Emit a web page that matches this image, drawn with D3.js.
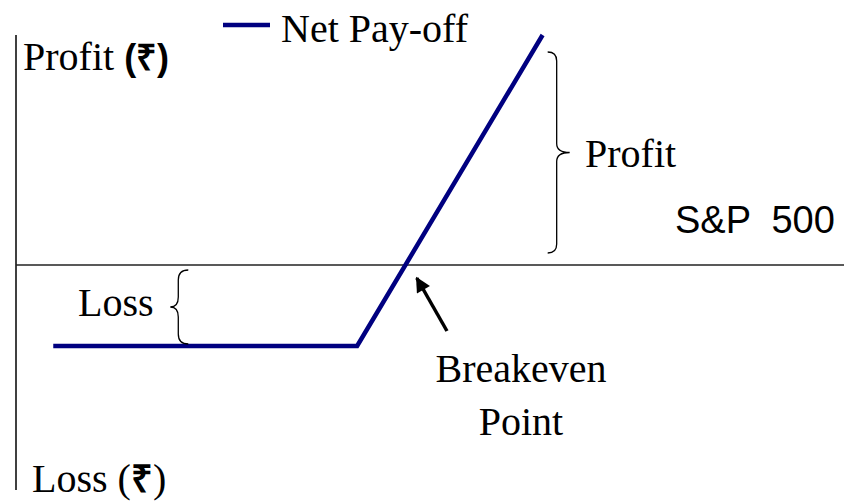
<!DOCTYPE html>
<html>
<head>
<meta charset="utf-8">
<script src="https://cdn.jsdelivr.net/npm/d3@7"></script>
<style>
  body { margin: 0; background: #fff; }
  svg { display: block; }
</style>
</head>
<body>
<div id="wrapper"></div>
<script>
// payoff of the long call, in chart units (index level vs profit)
const indexLevels = [4.5, 41.2, 63.6]
const netPayoff = [-81, -81, 230]

// labels
const legendLabel = "Net Pay-off"
const yTopLabel = "Profit "
const yBottomLabel = "Loss "
const rupee = "₹"
const xLabel = "S&P  500"
const profitLabel = "Profit"
const lossLabel = "Loss"
const breakevenLabel = ["Breakeven", "Point"]

const dimensions = {
    width: 844,
    height: 501,
}

const serif = "'Liberation Serif', 'Times New Roman', serif"
const sans = "'Liberation Sans', Arial, sans-serif"
const navy = "#000080"

const xScale = d3.scaleLinear()
    .domain([0, 100])
    .range([16, 844])

const yScale = d3.scaleLinear()
    .domain([-225, 230])
    .range([490, 35])

const wrapper = d3.select("#wrapper")
    .append("svg")
    .attr("width", dimensions.width)
    .attr("height", dimensions.height)

wrapper.append("defs").append("marker")
    .attr("id", "head")
    .attr("markerUnits", "userSpaceOnUse")
    .attr("viewBox", "0 0 10 10")
    .attr("refX", 9)
    .attr("refY", 5)
    .attr("markerWidth", 17)
    .attr("markerHeight", 15)
    .attr("orient", "auto")
    .append("path")
    .attr("d", "M0,0 L10,5 L0,10 Z")
    .attr("fill", "#000")

// axes
wrapper.append("line")
    .attr("x1", xScale(0)).attr("x2", xScale(0))
    .attr("y1", yScale(230)).attr("y2", yScale(-225))
    .attr("stroke", "#000")
    .attr("stroke-width", 1.5)

wrapper.append("line")
    .attr("x1", xScale(0)).attr("x2", xScale(100))
    .attr("y1", yScale(0)).attr("y2", yScale(0))
    .attr("stroke", "#222")
    .attr("stroke-width", 1.7)

// payoff line
const payoff = indexLevels.map((d, i) => ({ x: d, y: netPayoff[i] }))
const line = d3.line()
    .x(d => xScale(d.x))
    .y(d => yScale(d.y))

wrapper.append("path")
    .datum(payoff)
    .attr("d", line)
    .attr("fill", "none")
    .attr("stroke", navy)
    .attr("stroke-width", 4.5)

// curly brace: vertical at x, from y0 to y1, tip pointing dir (+1 right, -1 left)
const brace = (x, y0, y1, dir, q, tip) => {
    const ym = (y0 + y1) / 2
    const p = d3.path()
    p.moveTo(x - dir * q, y0)
    p.quadraticCurveTo(x, y0, x, y0 + q)
    p.lineTo(x, ym - q)
    p.quadraticCurveTo(x, ym, x + dir * tip, ym)
    p.quadraticCurveTo(x, ym, x, ym + q)
    p.lineTo(x, y1 - q)
    p.quadraticCurveTo(x, y1, x - dir * q, y1)
    return p.toString()
}

wrapper.append("path")
    .attr("d", brace(xScale(65.3), yScale(213), yScale(12), 1, 9, 13))
    .attr("fill", "none")
    .attr("stroke", "#000")
    .attr("stroke-width", 1.3)

wrapper.append("path")
    .attr("d", brace(xScale(19.6), yScale(-5), yScale(-79), -1, 10, 8))
    .attr("fill", "none")
    .attr("stroke", "#000")
    .attr("stroke-width", 1.3)

// breakeven arrow
wrapper.append("line")
    .attr("x1", xScale(52.05)).attr("y1", yScale(-66))
    .attr("x2", xScale(48.4)).attr("y2", yScale(-13))
    .attr("stroke", "#000")
    .attr("stroke-width", 3.5)
    .attr("marker-end", "url(#head)")

// legend
wrapper.append("line")
    .attr("x1", 223).attr("x2", 270)
    .attr("y1", 25).attr("y2", 25)
    .attr("stroke", navy)
    .attr("stroke-width", 4.5)

wrapper.append("text")
    .attr("x", 281).attr("y", 42)
    .style("font-family", serif)
    .style("font-size", "40px")
    .text(legendLabel)

// axis titles
const topTitle = wrapper.append("text")
    .attr("x", 23).attr("y", 70)
    .style("font-family", serif)
    .style("font-size", "40px")
    .style("white-space", "pre")
topTitle.append("tspan").text(yTopLabel)
topTitle.append("tspan")
    .style("font-family", sans)
    .style("font-weight", "bold")
    .style("font-size", "36px")
    .text("(" + rupee + ")")

const bottomTitle = wrapper.append("text")
    .attr("x", 32).attr("y", 492)
    .style("font-family", serif)
    .style("font-size", "40px")
    .style("white-space", "pre")
bottomTitle.append("tspan").text(yBottomLabel + "(")
bottomTitle.append("tspan")
    .style("font-family", sans)
    .style("font-weight", "bold")
    .style("font-size", "38px")
    .text(rupee)
bottomTitle.append("tspan").text(")")

wrapper.append("text")
    .attr("x", 675).attr("y", 233)
    .style("font-family", sans)
    .style("font-size", "38px")
    .style("white-space", "pre")
    .text(xLabel)

// annotations
wrapper.append("text")
    .attr("x", 585).attr("y", 167)
    .style("font-family", serif)
    .style("font-size", "40px")
    .text(profitLabel)

wrapper.append("text")
    .attr("x", 78).attr("y", 316)
    .style("font-family", serif)
    .style("font-size", "40px")
    .text(lossLabel)

wrapper.append("g")
    .selectAll("text")
    .data(breakevenLabel)
    .join("text")
    .attr("x", 521)
    .attr("y", (d, i) => 382 + i * 53)
    .attr("text-anchor", "middle")
    .style("font-family", serif)
    .style("font-size", "40px")
    .text(d => d)
</script>
</body>
</html>
